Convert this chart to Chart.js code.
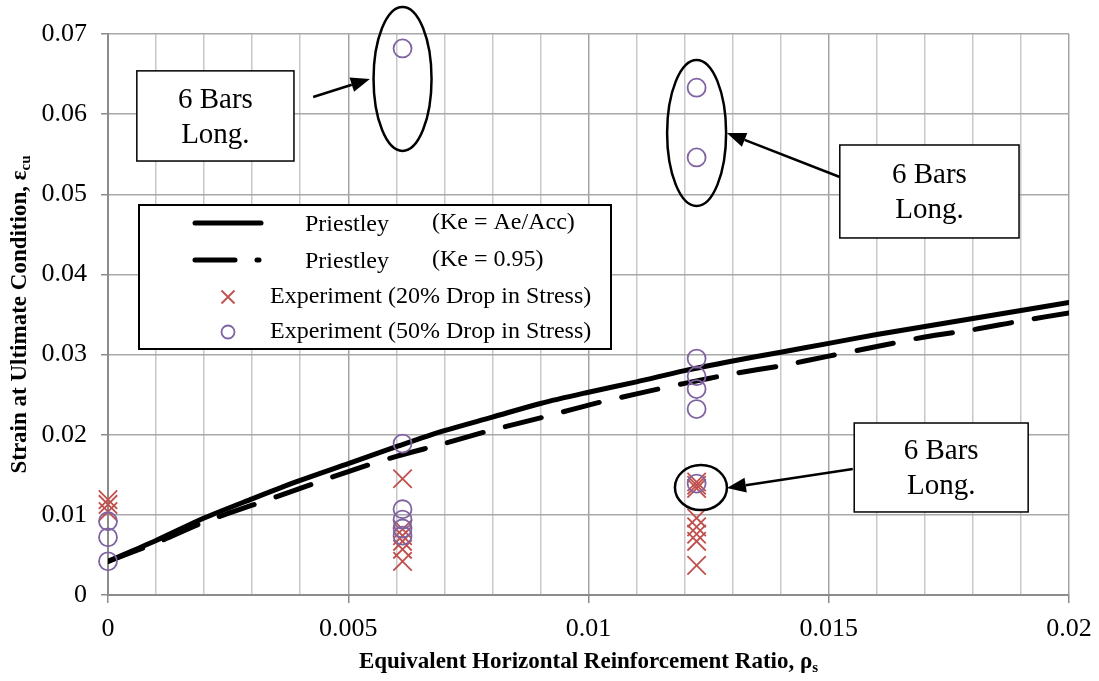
<!DOCTYPE html>
<html>
<head>
<meta charset="utf-8">
<title>Strain at Ultimate Condition</title>
<script src="https://cdn.jsdelivr.net/npm/chart.js@4.4.1/dist/chart.umd.min.js"></script>
<style>
    html, body { margin: 0; padding: 0; background: #fff; }
    #wrap { position: relative; width: 1099px; height: 681px; }
</style>
</head>
<body>
<div id="wrap"><canvas id="strainChart"></canvas></div>
<script>
// === DATA ===
// Priestley curves, sampled every 0.001 of rho_s
const RHO_CURVE = [0, 0.001, 0.002, 0.003, 0.004, 0.005, 0.006, 0.007, 0.008, 0.009, 0.01,
    0.011, 0.012, 0.013, 0.014, 0.015, 0.016, 0.017, 0.018, 0.019, 0.02];
const PRIESTLEY_KE_AREA = [0.0042, 0.0068, 0.0096, 0.0120, 0.0143, 0.0164, 0.0185, 0.0205, 0.0222, 0.0239, 0.0253,
    0.0266, 0.0280, 0.0292, 0.0303, 0.0314, 0.0325, 0.0335, 0.0345, 0.0355, 0.0365];
const PRIESTLEY_KE_095 = [0.0042, 0.0065, 0.0091, 0.0112, 0.0133, 0.0154, 0.0173, 0.0189, 0.0206, 0.0221, 0.0237,
    0.0251, 0.0264, 0.0276, 0.0286, 0.0298, 0.0310, 0.0322, 0.0331, 0.0342, 0.0352];

// Test results
const DROP20_RHO = [0, 0, 0,
    0.00613, 0.00613, 0.00613, 0.00613, 0.00613, 0.00613,
    0.01225, 0.01225, 0.01225, 0.01225, 0.01225, 0.01225, 0.01225, 0.01225];
const DROP20_STRAIN = [0.0119, 0.0113, 0.0104,
    0.0145, 0.0082, 0.0074, 0.0067, 0.0057, 0.0042,
    0.0141, 0.0137, 0.0133, 0.0096, 0.0085, 0.0076, 0.0067, 0.0037];

const DROP50_RHO = [0, 0, 0,
    0.00613, 0.00613, 0.00613, 0.00613, 0.00613, 0.00613,
    0.01225, 0.01225, 0.01225, 0.01225, 0.01225, 0.01225, 0.01225];
const DROP50_STRAIN = [0.0092, 0.0072, 0.0042,
    0.0682, 0.0189, 0.0107, 0.0094, 0.0083, 0.0074,
    0.0633, 0.0546, 0.0295, 0.0273, 0.0257, 0.0232, 0.0139];

const X_TICKS = [0, 0.005, 0.01, 0.015, 0.02];
const Y_TICKS = [0, 0.01, 0.02, 0.03, 0.04, 0.05, 0.06, 0.07];

// === STYLE ===
const FONT = "'Liberation Serif', 'Times New Roman', serif";
const RED = "#C0504D";
const PURPLE = "#8064A2";

// Callouts (anchored in data units)
const CALLOUTS = [
    { box: [0.0006, 0.0654, 0.00387, 0.05415], from: [0.00427, 0.06214], to: [0.00545, 0.06439],
      ring: { x: 0.00613, y: 0.0644, rx: 29, ry: 72 } },
    { box: [0.01523, 0.05615, 0.01896, 0.04455], from: [0.01523, 0.05216], to: [0.01288, 0.05765],
      ring: { x: 0.01225, y: 0.05765, rx: 29.5, ry: 73 } },
    { box: [0.01553, 0.02146, 0.01915, 0.01036], from: [0.0155, 0.01572], to: [0.01288, 0.01335],
      ring: { x: 0.01234, y: 0.01341, rx: 26, ry: 22.5 } },
];

const near = (list, v) => list.some((t) => Math.abs(t - v) < 1e-9);
const fmt = (v, d) => String(+v.toFixed(d));
const pts = (xs, ys) => xs.map((x, i) => ({ x, y: ys[i] }));

function drawArrow(ctx, x0, y0, x1, y1) {
    const ang = Math.atan2(y1 - y0, x1 - x0);
    const len = 19, half = 7.5;
    const bx = x1 - len * Math.cos(ang), by = y1 - len * Math.sin(ang);
    ctx.beginPath();
    ctx.moveTo(x0, y0);
    ctx.lineTo(bx, by);
    ctx.stroke();
    ctx.beginPath();
    ctx.moveTo(x1, y1);
    ctx.lineTo(bx + half * Math.sin(ang), by - half * Math.cos(ang));
    ctx.lineTo(bx - half * Math.sin(ang), by + half * Math.cos(ang));
    ctx.closePath();
    ctx.fill();
}

// text with a subscript tail, centred on (cx, cy)
function drawSubText(ctx, main, sub, cx, cy, size) {
    const mainFont = `bold ${size}px ${FONT}`;
    const subFont = `bold ${Math.round(size * 0.65)}px ${FONT}`;
    ctx.font = mainFont;
    const wMain = ctx.measureText(main).width;
    ctx.font = subFont;
    const wSub = ctx.measureText(sub).width;
    let x = cx - (wMain + wSub) / 2;
    ctx.textAlign = "left";
    ctx.textBaseline = "middle";
    ctx.font = mainFont;
    ctx.fillText(main, x, cy);
    ctx.font = subFont;
    ctx.fillText(sub, x + wMain, cy + size * 0.28);
}

const overlayPlugin = {
    id: "overlay",
    afterDraw(chart) {
        const { ctx, chartArea: area, scales: { x, y } } = chart;
        const px = (v) => x.getPixelForValue(v);
        const py = (v) => y.getPixelForValue(v);
        ctx.save();

        // --- callouts ---
        ctx.strokeStyle = "#000";
        ctx.fillStyle = "#000";
        CALLOUTS.forEach((c) => {
            ctx.lineWidth = 2.5;
            ctx.beginPath();
            ctx.ellipse(px(c.ring.x), py(c.ring.y), c.ring.rx, c.ring.ry, 0, 0, Math.PI * 2);
            ctx.stroke();

            drawArrow(ctx, px(c.from[0]), py(c.from[1]), px(c.to[0]), py(c.to[1]));

            const bx0 = px(c.box[0]), by0 = py(c.box[1]);
            const bw = px(c.box[2]) - bx0, bh = py(c.box[3]) - by0;
            ctx.fillStyle = "#fff";
            ctx.fillRect(bx0, by0, bw, bh);
            ctx.lineWidth = 1.5;
            ctx.strokeRect(bx0, by0, bw, bh);
            ctx.fillStyle = "#000";
            ctx.font = `29px ${FONT}`;
            ctx.textAlign = "center";
            ctx.textBaseline = "middle";
            ctx.fillText("6 Bars", bx0 + bw / 2, by0 + bh / 2 - 16);
            ctx.fillText("Long.", bx0 + bw / 2, by0 + bh / 2 + 19);
        });

        // --- legend ---
        const lx = area.left + 31, ly = area.top + 171;
        ctx.fillStyle = "#fff";
        ctx.fillRect(lx, ly, 472, 144);
        ctx.lineWidth = 2;
        ctx.strokeStyle = "#000";
        ctx.strokeRect(lx, ly, 472, 144);

        const rows = [ly + 18, ly + 55, ly + 92, ly + 127];
        ctx.lineCap = "round";
        ctx.lineWidth = 5;
        ctx.beginPath();
        ctx.moveTo(lx + 56, rows[0]);
        ctx.lineTo(lx + 122, rows[0]);
        ctx.stroke();
        ctx.beginPath();
        ctx.moveTo(lx + 56, rows[1]);
        ctx.lineTo(lx + 96, rows[1]);
        ctx.moveTo(lx + 118, rows[1]);
        ctx.lineTo(lx + 120, rows[1]);
        ctx.stroke();
        ctx.lineCap = "butt";

        ctx.lineWidth = 1.8;
        ctx.strokeStyle = RED;
        const cx = lx + 89, s = 6.5;
        ctx.beginPath();
        ctx.moveTo(cx - s, rows[2] - s);
        ctx.lineTo(cx + s, rows[2] + s);
        ctx.moveTo(cx + s, rows[2] - s);
        ctx.lineTo(cx - s, rows[2] + s);
        ctx.stroke();
        ctx.strokeStyle = PURPLE;
        ctx.beginPath();
        ctx.arc(cx, rows[3], 6.5, 0, Math.PI * 2);
        ctx.stroke();

        ctx.fillStyle = "#000";
        ctx.font = `24px ${FONT}`;
        ctx.textAlign = "left";
        ctx.textBaseline = "middle";
        ctx.fillText("Priestley", lx + 166, rows[0] + 2);
        ctx.fillText("(Ke = Ae/Acc)", lx + 293, rows[0]);
        ctx.fillText("Priestley", lx + 166, rows[1] + 2);
        ctx.fillText("(Ke = 0.95)", lx + 293, rows[1]);
        ctx.fillText("Experiment (20% Drop in Stress)", lx + 131, rows[2]);
        ctx.fillText("Experiment (50% Drop in Stress)", lx + 131, rows[3]);

        // --- axis titles ---
        drawSubText(ctx, "Equivalent Horizontal Reinforcement Ratio, \u03C1", "s",
            (area.left + area.right) / 2, 662, 23);
        ctx.save();
        ctx.translate(20, (area.top + area.bottom) / 2);
        ctx.rotate(-Math.PI / 2);
        drawSubText(ctx, "Strain at Ultimate Condition, \u03B5", "cu", 0, 0, 23);
        ctx.restore();

        ctx.restore();
    },
};

const ctx = document.getElementById("strainChart").getContext("2d");
new Chart(ctx, {
    type: "scatter",
    data: {
        datasets: [
            {
                label: "Experiment (50% Drop in Stress)",
                data: pts(DROP50_RHO, DROP50_STRAIN),
                pointStyle: "circle",
                pointRadius: 9,
                borderColor: PURPLE,
                backgroundColor: "rgba(0,0,0,0)",
                borderWidth: 1.8,
                clip: false,
            },
            {
                label: "Experiment (20% Drop in Stress)",
                data: pts(DROP20_RHO, DROP20_STRAIN),
                pointStyle: "crossRot",
                pointRadius: 13,
                borderColor: RED,
                borderWidth: 1.8,
                clip: false,
            },
            {
                label: "Priestley (Ke = Ae/Acc)",
                data: pts(RHO_CURVE, PRIESTLEY_KE_AREA),
                showLine: true,
                pointRadius: 0,
                borderColor: "#000",
                borderWidth: 5,
                borderCapStyle: "round",
                tension: 0.3,
            },
            {
                label: "Priestley (Ke = 0.95)",
                data: pts(RHO_CURVE, PRIESTLEY_KE_095),
                showLine: true,
                pointRadius: 0,
                borderColor: "#000",
                borderWidth: 5,
                borderDash: [37, 23],
                borderCapStyle: "round",
                tension: 0.3,
            },
        ],
    },
    options: {
        responsive: true,
        maintainAspectRatio: false,
        animation: false,
        layout: { autoPadding: false, padding: { top: 34, right: 30, left: 0, bottom: 0 } },
        plugins: {
            legend: { display: false },
            tooltip: { enabled: false },
        },
        scales: {
            x: {
                type: "linear",
                min: 0,
                max: 0.02,
                afterFit: (scale) => {
                    scale.height = 86;
                    // end labels may overhang; keep the plot edge fixed
                    scale.paddingLeft = 0;
                    scale.paddingRight = 0;
                },
                border: { color: "#8C8C8C", width: 2 },
                grid: {
                    lineWidth: 1.5,
                    color: (c) => (near(X_TICKS, c.tick.value) ? "#A3A3A3" : "#C8C8C8"),
                    tickColor: (c) => (near(X_TICKS, c.tick.value) ? "#8C8C8C" : "rgba(0,0,0,0)"),
                    tickLength: 8,
                },
                ticks: {
                    stepSize: 0.001,
                    maxTicksLimit: 30,
                    autoSkip: false,
                    maxRotation: 0,
                    padding: 11,
                    color: "#000",
                    font: { family: FONT, size: 26 },
                    callback: (v) => (near(X_TICKS, v) ? fmt(v, 3) : ""),
                },
            },
            y: {
                type: "linear",
                min: 0,
                max: 0.07,
                afterFit: (scale) => { scale.width = 108; },
                border: { color: "#8C8C8C", width: 2 },
                grid: {
                    lineWidth: 1.5,
                    color: "#A8A8A8",
                    tickColor: "#8C8C8C",
                    tickLength: 7,
                },
                ticks: {
                    stepSize: 0.01,
                    padding: 14,
                    color: "#000",
                    font: { family: FONT, size: 26 },
                    callback: (v) => (near(Y_TICKS, v) ? fmt(v, 2) : ""),
                },
            },
        },
    },
    plugins: [overlayPlugin],
});
</script>
</body>
</html>
